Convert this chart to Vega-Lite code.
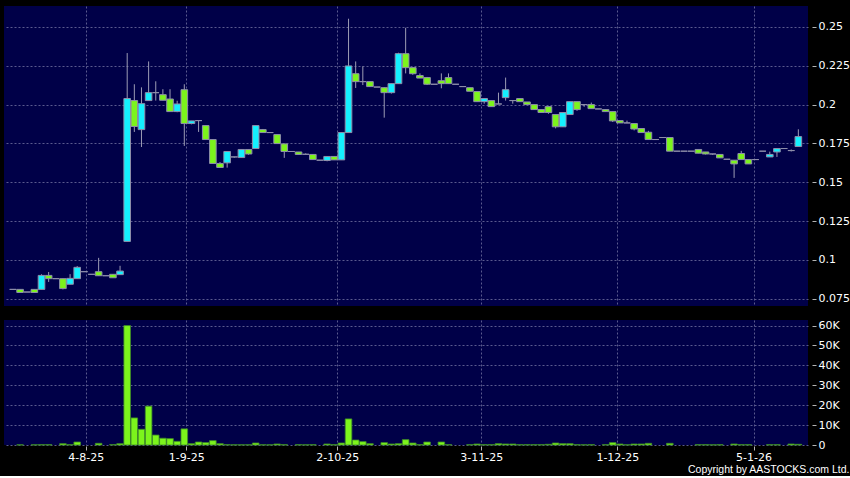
{
"$schema": "https://vega.github.io/schema/vega-lite/v6.json",
"background": "#000000",
"padding": {"left": 4, "top": 6, "right": 0, "bottom": 0},
"spacing": 13,
"title": {"text": "Copyright by AASTOCKS.com Ltd.", "orient": "bottom", "anchor": "end", "frame": "bounds", "color": "#ffffff", "font": "Liberation Sans", "fontSize": 10.5, "fontWeight": "normal", "offset": 3},
"config": {
  "view": {"stroke": null, "fill": "#000048"},
  "axis": {"labelColor": "#ffffff", "labelFont": "DejaVu Sans", "labelFontSize": 11, "tickColor": "#b4b4b4", "domain": false, "gridColor": "#5a5a8e", "gridDash": [2, 2], "gridWidth": 1, "title": null}
},
"data": {"values": [
{"i":1,"o":0.081,"h":0.081,"l":0.081,"c":0.081,"v":0},
{"i":2,"o":0.081,"h":0.081,"l":0.079,"c":0.079,"v":100},
{"i":3,"o":0.0793,"h":0.0793,"l":0.0793,"c":0.0793,"v":0},
{"i":4,"o":0.081,"h":0.081,"l":0.079,"c":0.079,"v":100},
{"i":5,"o":0.081,"h":0.0907,"l":0.081,"c":0.090,"v":150},
{"i":6,"o":0.090,"h":0.0922,"l":0.0858,"c":0.0879,"v":150},
{"i":7,"o":0.0879,"h":0.0879,"l":0.0879,"c":0.0879,"v":0},
{"i":8,"o":0.0879,"h":0.0879,"l":0.081,"c":0.0815,"v":670},
{"i":9,"o":0.0843,"h":0.0908,"l":0.0843,"c":0.0881,"v":150},
{"i":10,"o":0.0879,"h":0.096,"l":0.0879,"c":0.0952,"v":1500},
{"i":11,"o":0.0924,"h":0.0924,"l":0.0924,"c":0.0924,"v":0},
{"i":12,"o":0.0907,"h":0.0907,"l":0.0907,"c":0.0907,"v":0},
{"i":13,"o":0.0924,"h":0.1013,"l":0.0898,"c":0.0898,"v":840},
{"i":14,"o":0.0898,"h":0.0898,"l":0.0898,"c":0.0898,"v":0},
{"i":15,"o":0.0907,"h":0.0907,"l":0.0885,"c":0.0885,"v":170},
{"i":16,"o":0.0905,"h":0.0962,"l":0.0905,"c":0.0928,"v":670},
{"i":17,"o":0.1119,"h":0.2332,"l":0.1119,"c":0.2039,"v":60000},
{"i":18,"o":0.2026,"h":0.2131,"l":0.1824,"c":0.1859,"v":13600},
{"i":19,"o":0.1839,"h":0.2111,"l":0.1727,"c":0.2006,"v":7900},
{"i":20,"o":0.2026,"h":0.2278,"l":0.2026,"c":0.2077,"v":19500},
{"i":21,"o":0.2077,"h":0.2150,"l":0.2026,"c":0.2077,"v":5000},
{"i":22,"o":0.2064,"h":0.2099,"l":0.2028,"c":0.2028,"v":3400},
{"i":23,"o":0.2036,"h":0.2099,"l":0.1955,"c":0.1955,"v":3200},
{"i":24,"o":0.1955,"h":0.2025,"l":0.1951,"c":0.2004,"v":1850},
{"i":25,"o":0.2096,"h":0.2131,"l":0.1734,"c":0.1878,"v":8100},
{"i":26,"o":0.1878,"h":0.1895,"l":0.1873,"c":0.1895,"v":670},
{"i":27,"o":0.1897,"h":0.1897,"l":0.1824,"c":0.1897,"v":1500},
{"i":28,"o":0.1865,"h":0.1865,"l":0.1775,"c":0.1775,"v":1200},
{"i":29,"o":0.1775,"h":0.1775,"l":0.1621,"c":0.1621,"v":2200},
{"i":30,"o":0.1621,"h":0.1630,"l":0.1595,"c":0.1595,"v":670},
{"i":31,"o":0.1625,"h":0.1698,"l":0.1594,"c":0.1698,"v":150},
{"i":32,"o":0.1663,"h":0.1663,"l":0.1658,"c":0.1663,"v":100},
{"i":33,"o":0.1659,"h":0.1711,"l":0.1659,"c":0.1711,"v":100},
{"i":34,"o":0.1711,"h":0.1711,"l":0.1677,"c":0.1682,"v":100},
{"i":35,"o":0.1717,"h":0.1865,"l":0.1717,"c":0.1865,"v":1000},
{"i":36,"o":0.1839,"h":0.1843,"l":0.1820,"c":0.1820,"v":100},
{"i":37,"o":0.1820,"h":0.1820,"l":0.1820,"c":0.1820,"v":100},
{"i":38,"o":0.1807,"h":0.1807,"l":0.1749,"c":0.1749,"v":500},
{"i":39,"o":0.1747,"h":0.1747,"l":0.1657,"c":0.1698,"v":150},
{"i":40,"o":0.1698,"h":0.1698,"l":0.1698,"c":0.1698,"v":0},
{"i":41,"o":0.1695,"h":0.1695,"l":0.1679,"c":0.1679,"v":150},
{"i":42,"o":0.1680,"h":0.1686,"l":0.1680,"c":0.1680,"v":100},
{"i":43,"o":0.1679,"h":0.1679,"l":0.1646,"c":0.1646,"v":150},
{"i":44,"o":0.1642,"h":0.1642,"l":0.1642,"c":0.1642,"v":0},
{"i":45,"o":0.1640,"h":0.1666,"l":0.1635,"c":0.1666,"v":500},
{"i":46,"o":0.1666,"h":0.1666,"l":0.1644,"c":0.1644,"v":150},
{"i":47,"o":0.1644,"h":0.1820,"l":0.1644,"c":0.1820,"v":1000},
{"i":48,"o":0.1820,"h":0.2553,"l":0.1820,"c":0.2249,"v":13100},
{"i":49,"o":0.2199,"h":0.2278,"l":0.2107,"c":0.2148,"v":2500},
{"i":50,"o":0.2148,"h":0.2246,"l":0.2126,"c":0.2148,"v":1700},
{"i":51,"o":0.2148,"h":0.2148,"l":0.2116,"c":0.2116,"v":670},
{"i":52,"o":0.2113,"h":0.2113,"l":0.2113,"c":0.2113,"v":0},
{"i":53,"o":0.2109,"h":0.2112,"l":0.1916,"c":0.2077,"v":1200},
{"i":54,"o":0.2077,"h":0.2135,"l":0.2071,"c":0.2135,"v":500},
{"i":55,"o":0.2135,"h":0.2334,"l":0.2135,"c":0.2328,"v":670},
{"i":56,"o":0.2328,"h":0.2495,"l":0.2201,"c":0.2238,"v":2700},
{"i":57,"o":0.2238,"h":0.2238,"l":0.2192,"c":0.2199,"v":1000},
{"i":58,"o":0.2187,"h":0.2201,"l":0.2171,"c":0.2171,"v":150},
{"i":59,"o":0.2174,"h":0.2178,"l":0.2126,"c":0.2131,"v":1500},
{"i":60,"o":0.2131,"h":0.2131,"l":0.2131,"c":0.2131,"v":0},
{"i":61,"o":0.2154,"h":0.2201,"l":0.2105,"c":0.2135,"v":1500},
{"i":62,"o":0.2174,"h":0.2201,"l":0.2135,"c":0.2135,"v":150},
{"i":63,"o":0.2131,"h":0.2131,"l":0.2131,"c":0.2131,"v":0},
{"i":64,"o":0.2116,"h":0.2116,"l":0.2116,"c":0.2116,"v":0},
{"i":65,"o":0.2109,"h":0.2109,"l":0.2086,"c":0.2086,"v":150},
{"i":66,"o":0.2084,"h":0.2084,"l":0.2019,"c":0.2019,"v":500},
{"i":67,"o":0.2019,"h":0.2039,"l":0.2006,"c":0.2039,"v":150},
{"i":68,"o":0.2026,"h":0.2026,"l":0.1987,"c":0.1987,"v":150},
{"i":69,"o":0.2004,"h":0.2077,"l":0.2004,"c":0.2004,"v":670},
{"i":70,"o":0.2045,"h":0.2174,"l":0.2026,"c":0.2096,"v":500},
{"i":71,"o":0.2026,"h":0.2026,"l":0.2006,"c":0.2026,"v":500},
{"i":72,"o":0.2039,"h":0.2039,"l":0.2019,"c":0.2019,"v":150},
{"i":73,"o":0.2017,"h":0.2017,"l":0.2000,"c":0.2000,"v":150},
{"i":74,"o":0.2000,"h":0.2000,"l":0.1968,"c":0.1968,"v":150},
{"i":75,"o":0.1968,"h":0.1968,"l":0.1949,"c":0.1949,"v":150},
{"i":76,"o":0.1987,"h":0.1987,"l":0.1941,"c":0.1949,"v":340},
{"i":77,"o":0.1936,"h":0.1936,"l":0.1847,"c":0.1857,"v":1000},
{"i":78,"o":0.1857,"h":0.1949,"l":0.1857,"c":0.1949,"v":670},
{"i":79,"o":0.1936,"h":0.2019,"l":0.1936,"c":0.2019,"v":670},
{"i":80,"o":0.2019,"h":0.2019,"l":0.1960,"c":0.1968,"v":150},
{"i":81,"o":0.2000,"h":0.2000,"l":0.1986,"c":0.2000,"v":100},
{"i":82,"o":0.2000,"h":0.2013,"l":0.1974,"c":0.1974,"v":150},
{"i":83,"o":0.1972,"h":0.1972,"l":0.1972,"c":0.1972,"v":0},
{"i":84,"o":0.1968,"h":0.1968,"l":0.1955,"c":0.1955,"v":150},
{"i":85,"o":0.1955,"h":0.1955,"l":0.1888,"c":0.1895,"v":1200},
{"i":86,"o":0.1897,"h":0.1897,"l":0.1882,"c":0.1882,"v":500},
{"i":87,"o":0.1882,"h":0.1897,"l":0.1882,"c":0.1882,"v":100},
{"i":88,"o":0.1878,"h":0.1878,"l":0.1834,"c":0.1843,"v":500},
{"i":89,"o":0.1846,"h":0.1846,"l":0.1820,"c":0.1820,"v":500},
{"i":90,"o":0.1822,"h":0.1831,"l":0.1775,"c":0.1775,"v":840},
{"i":91,"o":0.1775,"h":0.1775,"l":0.1775,"c":0.1775,"v":0},
{"i":92,"o":0.1788,"h":0.1788,"l":0.1788,"c":0.1788,"v":0},
{"i":93,"o":0.1788,"h":0.1788,"l":0.1700,"c":0.1700,"v":840},
{"i":94,"o":0.1700,"h":0.1700,"l":0.1700,"c":0.1700,"v":0},
{"i":95,"o":0.1700,"h":0.1700,"l":0.1700,"c":0.1700,"v":0},
{"i":96,"o":0.1700,"h":0.1700,"l":0.1700,"c":0.1700,"v":0},
{"i":97,"o":0.1711,"h":0.1711,"l":0.1687,"c":0.1687,"v":150},
{"i":98,"o":0.1695,"h":0.1695,"l":0.1679,"c":0.1682,"v":150},
{"i":99,"o":0.1682,"h":0.1682,"l":0.1676,"c":0.1682,"v":100},
{"i":100,"o":0.1679,"h":0.1679,"l":0.1657,"c":0.1657,"v":150},
{"i":101,"o":0.1648,"h":0.1648,"l":0.1648,"c":0.1648,"v":0},
{"i":102,"o":0.1642,"h":0.1642,"l":0.1528,"c":0.1618,"v":500},
{"i":103,"o":0.1685,"h":0.1702,"l":0.1646,"c":0.1646,"v":150},
{"i":104,"o":0.1646,"h":0.1646,"l":0.1618,"c":0.1618,"v":150},
{"i":105,"o":0.1646,"h":0.1646,"l":0.1646,"c":0.1646,"v":0},
{"i":106,"o":0.1700,"h":0.1700,"l":0.1700,"c":0.1700,"v":0},
{"i":107,"o":0.1663,"h":0.1697,"l":0.1663,"c":0.1679,"v":150},
{"i":108,"o":0.1695,"h":0.1717,"l":0.1663,"c":0.1717,"v":150},
{"i":109,"o":0.1717,"h":0.1717,"l":0.1717,"c":0.1717,"v":0},
{"i":110,"o":0.1704,"h":0.1711,"l":0.1698,"c":0.1704,"v":500},
{"i":111,"o":0.1730,"h":0.1841,"l":0.1730,"c":0.1794,"v":340}
]},
"vconcat": [
 {
  "width": 804, "height": 300,
  "layer": [
   {
    "mark": {"type": "rule", "color": "#9c9cb4", "strokeWidth": 1},
    "encoding": {
     "x": {"field": "i", "type": "quantitative", "scale": {"domain": [0.447, 111.65], "nice": false, "zero": false},
           "axis": {"values": [11.19, 25.27, 46.41, 66.59, 85.65, 104.73], "labels": false, "ticks": false, "grid": true}},
     "y": {"field": "l", "type": "quantitative", "scale": {"domain": [0.0703, 0.2635], "nice": false, "zero": false},
           "axis": {"orient": "right", "values": [0.075, 0.1, 0.125, 0.15, 0.175, 0.2, 0.225, 0.25], "labelExpr": "format(datum.value, '.3~f')", "tickSize": 4, "offset": 4, "labelPadding": 2, "grid": true}},
     "y2": {"field": "h"}
    }
   },
   {
    "mark": {"type": "bar", "width": 6.6, "stroke": "#8e8eaa", "strokeWidth": 1},
    "encoding": {
     "x": {"field": "i", "type": "quantitative"},
     "y": {"field": "o", "type": "quantitative"},
     "y2": {"field": "c"},
     "color": {"condition": {"test": "datum.c > datum.o", "value": "#14f0ff"}, "value": "#7cf41c"}
    }
   }
  ]
 },
 {
  "width": 804, "height": 125,
  "transform": [{"filter": "datum.v > 0"}],
  "mark": {"type": "bar", "width": 6.6, "color": "#7cf41c", "stroke": "#3e8a28", "strokeWidth": 0.8},
  "encoding": {
   "x": {"field": "i", "type": "quantitative", "scale": {"domain": [0.447, 111.65], "nice": false, "zero": false},
         "axis": {"values": [11.19, 25.27, 46.41, 66.59, 85.65, 104.73], "grid": true, "tickSize": 4, "offset": 1, "labelPadding": 1,
                  "labelExpr": "datum.value < 15 ? '4-8-25' : datum.value < 30 ? '1-9-25' : datum.value < 50 ? '2-10-25' : datum.value < 70 ? '3-11-25' : datum.value < 90 ? '1-12-25' : '5-1-26'"}},
   "y": {"field": "v", "type": "quantitative", "scale": {"domain": [0, 62800], "nice": false},
         "axis": {"orient": "right", "values": [0, 10000, 20000, 30000, 40000, 50000, 60000], "tickSize": 4, "offset": 4, "labelPadding": 2, "grid": true,
                  "labelExpr": "datum.value == 0 ? '0' : (datum.value / 1000) + 'K'"}}
  }
 }
]
}
